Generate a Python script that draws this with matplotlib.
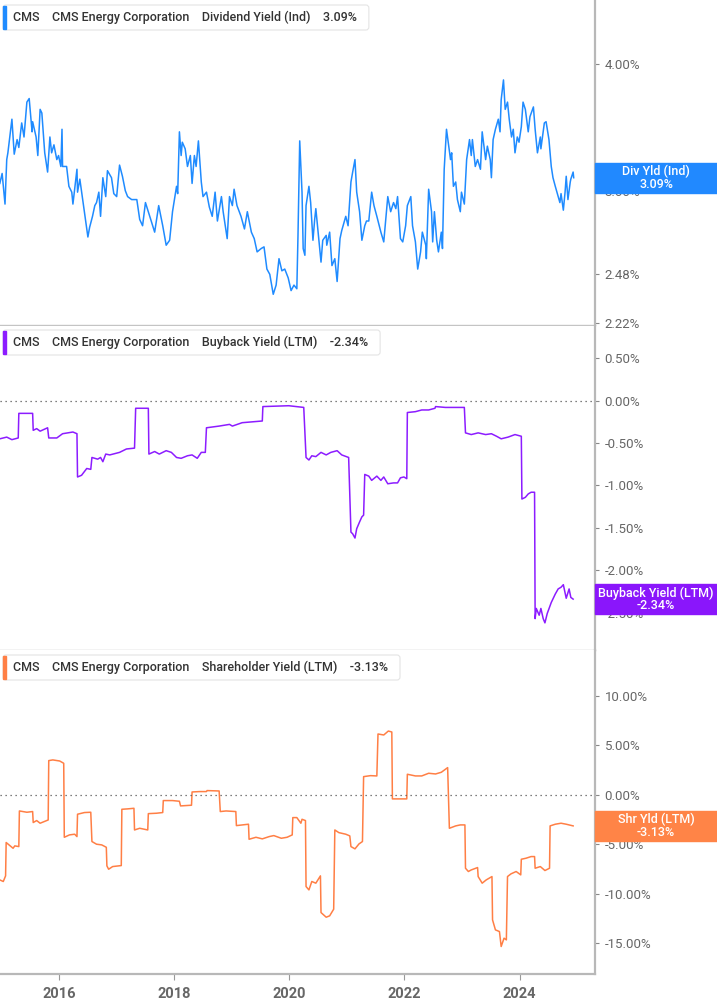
import matplotlib
matplotlib.use("Agg")
import matplotlib.pyplot as plt
from matplotlib.patches import Rectangle, FancyBboxPatch
from matplotlib.ticker import NullLocator

plt.rcParams['font.family'] = ['Roboto', 'DejaVu Sans']

# Dividend Yield (Ind), %
div_years = [2014.97, 2015.01, 2015.06, 2015.09, 2015.11, 2015.18, 2015.22, 2015.27, 2015.30, 2015.35,
             2015.39, 2015.44, 2015.48, 2015.53, 2015.54, 2015.60, 2015.63, 2015.67, 2015.70, 2015.72,
             2015.75, 2015.80, 2015.84, 2015.87, 2015.91, 2015.96, 2015.99, 2016.03, 2016.05, 2016.06,
             2016.13, 2016.17, 2016.22, 2016.24, 2016.31, 2016.32, 2016.36, 2016.41, 2016.44, 2016.50,
             2016.53, 2016.58, 2016.62, 2016.65, 2016.69, 2016.72, 2016.76, 2016.81, 2016.84, 2016.91,
             2016.95, 2017.00, 2017.05, 2017.10, 2017.15, 2017.19, 2017.26, 2017.35, 2017.40, 2017.45,
             2017.50, 2017.55, 2017.60, 2017.66, 2017.73, 2017.80, 2017.86, 2017.92, 2017.97, 2018.04,
             2018.06, 2018.09, 2018.12, 2018.14, 2018.19, 2018.23, 2018.28, 2018.31, 2018.35, 2018.38,
             2018.42, 2018.47, 2018.50, 2018.56, 2018.61, 2018.66, 2018.71, 2018.75, 2018.82, 2018.85,
             2018.92, 2018.96, 2019.01, 2019.04, 2019.09, 2019.16, 2019.22, 2019.27, 2019.34, 2019.39,
             2019.44, 2019.51, 2019.56, 2019.61, 2019.66, 2019.72, 2019.77, 2019.82, 2019.87, 2019.92,
             2019.98, 2020.03, 2020.08, 2020.13, 2020.15, 2020.18, 2020.22, 2020.24, 2020.27, 2020.29,
             2020.34, 2020.37, 2020.41, 2020.44, 2020.46, 2020.50, 2020.55, 2020.58, 2020.64, 2020.65,
             2020.70, 2020.74, 2020.79, 2020.83, 2020.88, 2020.91, 2020.98, 2021.02, 2021.07, 2021.10,
             2021.14, 2021.17, 2021.22, 2021.26, 2021.31, 2021.34, 2021.38, 2021.43, 2021.47, 2021.52,
             2021.59, 2021.64, 2021.71, 2021.76, 2021.81, 2021.85, 2021.88, 2021.93, 2021.97, 2022.02,
             2022.05, 2022.11, 2022.14, 2022.19, 2022.23, 2022.28, 2022.31, 2022.37, 2022.38, 2022.42,
             2022.47, 2022.49, 2022.52, 2022.56, 2022.59, 2022.64, 2022.66, 2022.69, 2022.73, 2022.76,
             2022.80, 2022.82, 2022.85, 2022.89, 2022.92, 2022.97, 2022.99, 2023.04, 2023.08, 2023.13,
             2023.16, 2023.18, 2023.23, 2023.27, 2023.32, 2023.35, 2023.41, 2023.44, 2023.49, 2023.51,
             2023.54, 2023.58, 2023.63, 2023.66, 2023.68, 2023.72, 2023.75, 2023.79, 2023.82, 2023.86,
             2023.89, 2023.92, 2023.96, 2023.99, 2024.03, 2024.06, 2024.10, 2024.15, 2024.18, 2024.24,
             2024.27, 2024.31, 2024.36, 2024.37, 2024.43, 2024.46, 2024.51, 2024.55, 2024.58, 2024.62,
             2024.67, 2024.70, 2024.72, 2024.76, 2024.79, 2024.81, 2024.84, 2024.88, 2024.89, 2024.93,
             2024.94]
div_vals = [3.05, 3.12, 2.91, 3.22, 3.27, 3.53, 3.26, 3.37, 3.31, 3.50,
            3.39, 3.67, 3.70, 3.43, 3.51, 3.39, 3.25, 3.61, 3.58, 3.45,
            3.27, 3.13, 3.39, 3.27, 3.33, 3.22, 3.25, 3.17, 3.45, 3.17,
            3.17, 3.03, 2.99, 2.91, 3.15, 2.99, 3.08, 2.94, 2.86, 2.70,
            2.76, 2.83, 2.90, 2.92, 2.99, 2.83, 3.09, 2.96, 3.14, 3.09,
            2.98, 2.96, 3.18, 3.10, 3.00, 2.96, 2.94, 2.94, 2.81, 2.77,
            2.92, 2.86, 2.80, 2.73, 2.90, 2.77, 2.65, 2.68, 2.86, 3.03,
            2.98, 3.43, 3.25, 3.35, 3.30, 3.17, 3.25, 3.05, 3.25, 3.17,
            3.36, 3.06, 2.96, 2.99, 2.89, 2.83, 2.99, 2.80, 2.96, 2.86,
            2.69, 2.96, 2.90, 3.01, 2.90, 2.83, 2.75, 2.86, 2.73, 2.69,
            2.61, 2.63, 2.64, 2.51, 2.48, 2.37, 2.42, 2.57, 2.50, 2.51,
            2.46, 2.39, 2.42, 2.40, 2.71, 3.36, 2.99, 2.63, 2.59, 2.90,
            3.03, 2.92, 2.68, 2.81, 2.88, 2.73, 2.55, 2.68, 2.71, 2.65,
            2.73, 2.53, 2.57, 2.44, 2.69, 2.74, 2.83, 2.77, 3.06, 3.13,
            3.22, 2.99, 2.86, 2.68, 2.77, 2.80, 2.80, 2.99, 2.90, 2.83,
            2.73, 2.67, 2.96, 2.86, 2.92, 2.88, 2.96, 2.69, 2.67, 2.77,
            2.90, 2.96, 2.77, 2.67, 2.51, 2.61, 2.73, 2.65, 2.57, 3.01,
            2.86, 2.67, 2.86, 2.68, 2.61, 2.73, 2.63, 3.15, 3.45, 3.35,
            3.22, 3.27, 3.03, 3.06, 2.94, 2.86, 2.99, 2.91, 3.22, 3.37,
            3.25, 3.37, 3.17, 3.22, 3.15, 3.43, 3.22, 3.32, 3.22, 3.09,
            3.37, 3.45, 3.53, 3.43, 3.69, 3.86, 3.61, 3.67, 3.53, 3.39,
            3.45, 3.27, 3.39, 3.35, 3.47, 3.67, 3.61, 3.43, 3.55, 3.63,
            3.45, 3.27, 3.39, 3.30, 3.50, 3.51, 3.37, 3.17, 3.09, 3.03,
            2.96, 2.92, 2.98, 2.87, 2.99, 3.10, 2.94, 3.06, 3.08, 3.13,
            3.09]

# Buyback Yield (LTM), %
bb_years = [2014.97, 2015.09, 2015.18, 2015.29, 2015.30, 2015.54, 2015.55, 2015.61, 2015.67, 2015.80,
            2015.82, 2015.96, 2016.06, 2016.24, 2016.31, 2016.32, 2016.39, 2016.48, 2016.55, 2016.57,
            2016.67, 2016.72, 2016.76, 2016.81, 2016.88, 2017.05, 2017.17, 2017.31, 2017.33, 2017.55,
            2017.56, 2017.66, 2017.74, 2017.86, 2017.95, 2018.04, 2018.12, 2018.23, 2018.31, 2018.40,
            2018.47, 2018.54, 2018.56, 2018.78, 2018.96, 2019.01, 2019.18, 2019.53, 2019.54, 2019.99,
            2020.25, 2020.29, 2020.34, 2020.39, 2020.46, 2020.55, 2020.64, 2020.72, 2020.83, 2020.91,
            2021.03, 2021.07, 2021.10, 2021.14, 2021.17, 2021.22, 2021.26, 2021.29, 2021.31, 2021.38,
            2021.43, 2021.52, 2021.59, 2021.64, 2021.71, 2021.81, 2021.88, 2021.93, 2021.99, 2022.04,
            2022.05, 2022.19, 2022.30, 2022.42, 2022.53, 2022.54, 2022.71, 2022.89, 2023.04, 2023.06,
            2023.16, 2023.28, 2023.41, 2023.51, 2023.60, 2023.68, 2023.80, 2023.92, 2024.03, 2024.04,
            2024.10, 2024.15, 2024.20, 2024.26, 2024.27, 2024.29, 2024.34, 2024.37, 2024.41, 2024.44,
            2024.48, 2024.55, 2024.62, 2024.67, 2024.72, 2024.76, 2024.81, 2024.86, 2024.89, 2024.93]
bb_vals = [-0.45, -0.43, -0.46, -0.44, -0.15, -0.15, -0.35, -0.33, -0.36, -0.32,
           -0.44, -0.44, -0.39, -0.37, -0.39, -0.90, -0.88, -0.80, -0.81, -0.67,
           -0.69, -0.67, -0.72, -0.63, -0.64, -0.61, -0.57, -0.56, -0.09, -0.09,
           -0.63, -0.60, -0.63, -0.59, -0.61, -0.67, -0.68, -0.65, -0.64, -0.68,
           -0.61, -0.61, -0.32, -0.30, -0.28, -0.30, -0.26, -0.24, -0.07, -0.06,
           -0.08, -0.67, -0.70, -0.65, -0.66, -0.61, -0.64, -0.61, -0.59, -0.64,
           -0.67, -1.55, -1.57, -1.62, -1.51, -1.43, -1.37, -1.35, -0.87, -0.89,
           -0.94, -0.89, -0.94, -0.90, -0.98, -0.97, -0.97, -0.91, -0.90, -0.92,
           -0.14, -0.13, -0.11, -0.11, -0.09, -0.07, -0.08, -0.08, -0.08, -0.38,
           -0.40, -0.38, -0.40, -0.39, -0.42, -0.45, -0.43, -0.40, -0.42, -1.16,
           -1.14, -1.10, -1.08, -1.08, -2.57, -2.45, -2.53, -2.45, -2.57, -2.62,
           -2.51, -2.38, -2.28, -2.22, -2.20, -2.17, -2.33, -2.22, -2.32, -2.34]

# Shareholder Yield (LTM), %
shr_years = [2014.97, 2015.03, 2015.07, 2015.08, 2015.15, 2015.20, 2015.23, 2015.30, 2015.31, 2015.44,
             2015.54, 2015.55, 2015.61, 2015.67, 2015.81, 2015.82, 2015.89, 2016.01, 2016.08, 2016.09,
             2016.18, 2016.27, 2016.31, 2016.32, 2016.44, 2016.55, 2016.57, 2016.65, 2016.74, 2016.82,
             2016.83, 2016.86, 2016.93, 2017.08, 2017.09, 2017.19, 2017.30, 2017.31, 2017.40, 2017.54,
             2017.55, 2017.69, 2017.80, 2017.81, 2017.97, 2018.09, 2018.11, 2018.30, 2018.31, 2018.44,
             2018.56, 2018.57, 2018.78, 2018.80, 2018.90, 2019.07, 2019.08, 2019.18, 2019.29, 2019.30,
             2019.42, 2019.53, 2019.65, 2019.73, 2019.86, 2019.96, 2020.05, 2020.06, 2020.13, 2020.20,
             2020.22, 2020.28, 2020.29, 2020.34, 2020.39, 2020.46, 2020.54, 2020.55, 2020.64, 2020.70,
             2020.77, 2020.79, 2020.86, 2020.98, 2021.05, 2021.07, 2021.14, 2021.21, 2021.27, 2021.29,
             2021.41, 2021.52, 2021.54, 2021.64, 2021.72, 2021.78, 2021.79, 2021.93, 2022.04, 2022.05,
             2022.19, 2022.30, 2022.42, 2022.54, 2022.64, 2022.75, 2022.78, 2022.89, 2022.97, 2023.05,
             2023.06, 2023.11, 2023.16, 2023.27, 2023.28, 2023.35, 2023.42, 2023.52, 2023.53, 2023.58,
             2023.65, 2023.68, 2023.73, 2023.77, 2023.79, 2023.85, 2023.94, 2024.02, 2024.03, 2024.11,
             2024.20, 2024.26, 2024.27, 2024.36, 2024.44, 2024.52, 2024.53, 2024.62, 2024.72, 2024.81,
             2024.93]
shr_vals = [-8.59, -8.75, -8.18, -4.81, -5.15, -5.39, -5.15, -5.22, -1.62, -1.75,
            -1.68, -2.79, -2.59, -2.86, -2.53, 3.47, 3.54, 3.43, 3.20, -4.28,
            -4.04, -3.97, -4.21, -1.95, -1.78, -1.75, -4.71, -4.98, -5.05, -5.29,
            -7.17, -7.51, -7.24, -7.14, -1.45, -1.41, -1.35, -3.54, -3.37, -3.54,
            -1.89, -1.85, -1.78, -0.57, -0.57, -0.64, -1.11, -1.04, 0.30, 0.34,
            0.34, 0.44, 0.40, -1.68, -1.62, -1.68, -3.10, -3.03, -2.96, -4.48,
            -4.28, -4.44, -4.21, -4.11, -4.38, -4.28, -4.04, -2.29, -2.29, -2.86,
            -2.46, -2.59, -9.26, -9.60, -8.75, -8.92, -8.18, -11.89, -12.36, -12.22,
            -11.55, -3.54, -3.81, -3.97, -4.14, -5.22, -5.45, -4.95, -4.71, 1.85,
            1.95, 1.92, 6.16, 6.06, 6.46, 6.36, -0.40, -0.40, -0.40, 2.09,
            1.92, 1.92, 2.19, 2.12, 2.29, 2.76, -3.37, -3.13, -3.03, -3.03,
            -7.41, -7.74, -7.58, -7.34, -8.25, -8.92, -8.59, -8.25, -12.63, -13.64,
            -13.81, -15.32, -14.48, -14.65, -8.25, -7.98, -7.74, -8.08, -6.50, -6.40,
            -6.23, -6.23, -7.41, -7.24, -7.64, -7.41, -3.13, -2.96, -2.86, -2.96,
            -3.13]

x_ticks = [2016, 2018, 2020, 2022, 2024]

W, H = 717, 1005
fig = plt.figure(figsize=(W / 100, H / 100), dpi=100)

def panel(top, bottom):
    return fig.add_axes([0, 1 - bottom / H, 595 / W, (bottom - top) / H])

ax1 = panel(0, 325)
ax2 = panel(326, 650)
ax3 = panel(650, 974)

panels = [
    (ax1, div_years, div_vals, '#1f8bff', '#2189ff',
     'CMS    CMS Energy Corporation    Dividend Yield (Ind)    3.09%', 'Div Yld (Ind)', '3.09%', 5),
    (ax2, bb_years, bb_vals, '#8c1cff', '#8a16fb',
     'CMS    CMS Energy Corporation    Buyback Yield (LTM)    -2.34%', 'Buyback Yield (LTM)', '-2.34%', 330),
    (ax3, shr_years, shr_vals, '#ff7f45', '#ff8447',
     'CMS    CMS Energy Corporation    Shareholder Yield (LTM)    -3.13%', 'Shr Yld (LTM)', '-3.13%', 655),
]

for ax, xs, ys, col, box_col, title, short, last, ttop in panels:
    ax.plot(xs, ys, color=col, lw=1.1)
    ax.set_xlim(2014.973, 2025.31)
    for s in ['top', 'left']:
        ax.spines[s].set_visible(False)
    ax.spines['right'].set_color('#b8b8b8')
    ax.spines['right'].set_linewidth(1.6)
    ax.spines['bottom'].set_color('#c4c4c4')
    ax.spines['bottom'].set_linewidth(1.0)
    ax.yaxis.tick_right()
    ax.tick_params(axis='y', length=3, width=0.8, color='#888888', labelcolor='#666666',
                   labelsize=9.5, pad=4)
    ax.set_xticks([])

# top panel is on a log scale
ax1.set_yscale('log')
ax1.set_ylim(2.21, 4.63)
ax1.set_yticks([2.22, 2.48, 3.0, 4.0])
ax1.set_yticklabels(['2.22%', '2.48%', '3.00%', '4.00%'])
ax1.yaxis.set_minor_locator(NullLocator())

ax2.set_ylim(-2.94, 0.88)
bb_ticks = [0.5, 0.0, -0.5, -1.0, -1.5, -2.0, -2.5]
ax2.set_yticks(bb_ticks)
ax2.set_yticklabels(['%.2f%%' % t for t in bb_ticks])
ax2.axhline(0, color='#555555', lw=0.9, ls=(0, (1, 3)))

ax3.set_ylim(-18.1, 14.65)
shr_ticks = [10, 5, 0, -5, -10, -15]
ax3.set_yticks(shr_ticks)
ax3.set_yticklabels(['%.2f%%' % t for t in shr_ticks])
ax3.axhline(0, color='#555555', lw=0.9, ls=(0, (1, 3)))
ax3.spines['bottom'].set_color('#b8b8b8')
ax3.spines['bottom'].set_linewidth(1.6)

ax3.set_xticks(x_ticks)
ax3.set_xticklabels([str(y) for y in x_ticks])
ax3.tick_params(axis='x', length=4, width=0.8, color='#999999', labelcolor='#666666',
                labelsize=10.5, pad=5)
for lab in ax3.get_xticklabels():
    lab.set_family(['Liberation Sans Narrow', 'Roboto', 'DejaVu Sans'])
    lab.set_fontweight('bold')

# title boxes in the upper left of each panel
title_texts = []
for ax, xs, ys, col, box_col, title, short, last, ttop in panels:
    t = fig.text(13 / W, 1 - (ttop + 12.5) / H, title, fontsize=9, fontweight='medium',
                 color='#333333', va='center', ha='left')
    title_texts.append((t, col, ttop))

fig.canvas.draw()
for t, col, ttop in title_texts:
    bb = t.get_window_extent()
    y0 = H - ttop - 25
    box = FancyBboxPatch((3, y0), bb.x1 + 12 - 3, 25, boxstyle='round,pad=0,rounding_size=3',
                         transform=None, fc='white', ec='#e4e4e4', lw=0.8, zorder=2)
    fig.add_artist(box)
    fig.add_artist(Rectangle((3, y0 + 1), 3, 23, transform=None, color=col, zorder=2.5))

# value boxes at the right edge, centred on the last value
for ax, xs, ys, col, box_col, title, short, last, ttop in panels:
    ypix = ax.transData.transform((xs[-1], ys[-1]))[1]
    fig.add_artist(Rectangle((595, ypix - 15), 122, 30, transform=None, color=box_col, zorder=2))
    fig.text(656 / W, (ypix + 6) / H, short, color='white', fontsize=9, fontweight='medium',
             ha='center', va='center')
    fig.text(656 / W, (ypix - 6.5) / H, last, color='white', fontsize=9, fontweight='medium',
             ha='center', va='center')

fig.savefig('out.png', dpi=100)
